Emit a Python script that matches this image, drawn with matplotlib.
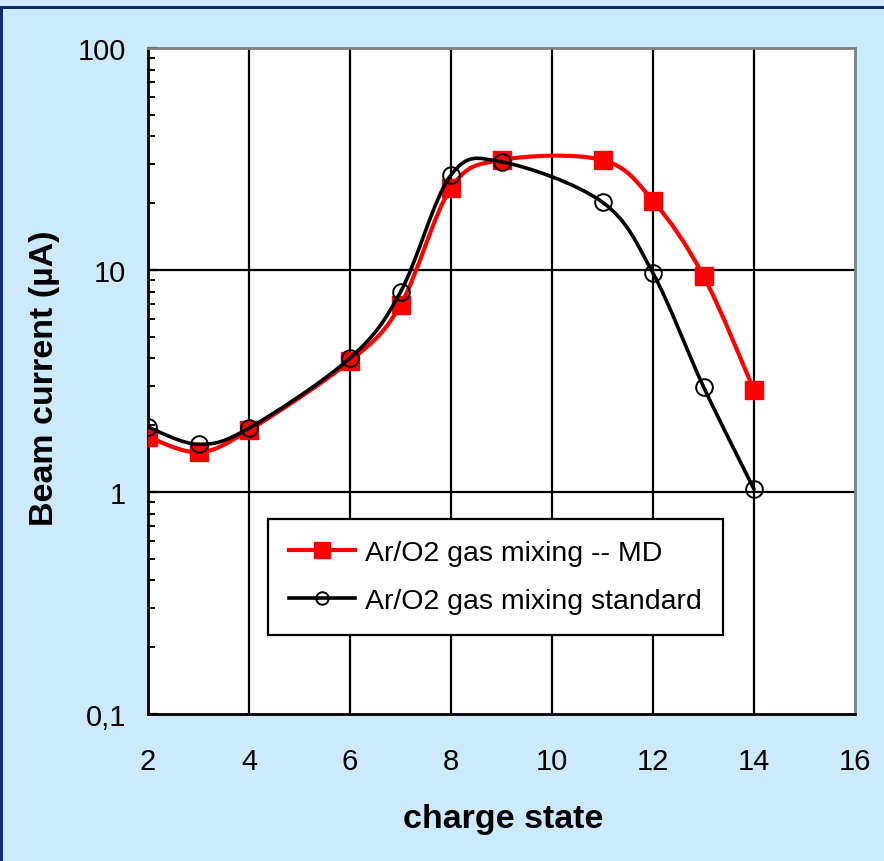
import numpy as np
import matplotlib.pyplot as plt
from matplotlib.path import Path
from matplotlib.patches import PathPatch, Rectangle
from matplotlib.lines import Line2D

plt.rcParams['font.family'] = ['Liberation Sans', 'DejaVu Sans']

charge = [2, 3, 4, 6, 7, 8, 9, 11, 12, 13, 14]
md_current = [1.77, 1.51, 1.90, 3.89, 6.95, 23.4, 31.3, 31.3, 20.5, 9.4, 2.88]
std_current = [1.96, 1.64, 1.94, 4.01, 7.95, 26.8, 30.7, 20.2, 9.67, 2.98, 1.03]

x_ticks = [2, 4, 6, 8, 10, 12, 14, 16]
y_ticks = [0.1, 1, 10, 100]
y_tick_labels = ["0,1", "1", "10", "100"]

BG = "#cdeafd"
NAVY = "#0b2c66"


def smooth_path(xs, ys):
    # Excel-like smoothed line: Catmull-Rom -> cubic Bezier in (x, log10 y) space
    p = np.column_stack([xs, np.log10(ys)])
    n = len(p)
    verts = [p[0]]
    codes = [Path.MOVETO]
    for i in range(n - 1):
        p0 = p[i - 1] if i > 0 else p[i]
        p3 = p[i + 2] if i + 2 < n else p[i + 1]
        c1 = p[i] + (p[i + 1] - p0) / 6.0
        c2 = p[i + 1] - (p3 - p[i]) / 6.0
        verts += [c1, c2, p[i + 1]]
        codes += [Path.CURVE4] * 3
    v = np.array(verts)
    v[:, 1] = 10 ** v[:, 1]
    return Path(v, codes)


fig = plt.figure(figsize=(8.84, 8.62), dpi=100, facecolor=BG)

# navy frame lines at top and left
fig.add_artist(Rectangle((0, 1 - 10 / 862), 1, 3 / 862, transform=fig.transFigure,
                         facecolor=NAVY, edgecolor="none"))
fig.add_artist(Rectangle((0, 0), 3 / 884, 1 - 7 / 862, transform=fig.transFigure,
                         facecolor=NAVY, edgecolor="none"))

ax = fig.add_axes([148 / 884, 147 / 862, 707 / 884, 666 / 862])
ax.set_facecolor("white")
ax.set_yscale("log")
ax.set_xlim(2, 16)
ax.set_ylim(0.1, 100)

for xv in x_ticks[1:-1]:
    ax.axvline(xv, color="black", lw=1.6, zorder=1)
for yv in [1, 10]:
    ax.axhline(yv, color="black", lw=1.6, zorder=1)

ax.add_patch(PathPatch(smooth_path(charge, md_current), facecolor="none",
                       edgecolor="#ff0000", lw=3.0, zorder=3, capstyle="round"))
ax.plot(charge, md_current, ls="none", marker="s", ms=12.5, color="#ff0000",
        mec="#ff0000", zorder=4)
ax.add_patch(PathPatch(smooth_path(charge, std_current), facecolor="none",
                       edgecolor="black", lw=2.6, zorder=5, capstyle="round"))
ax.plot(charge, std_current, ls="none", marker="o", ms=12, mfc="none",
        mec="black", mew=1.4, zorder=6)

ax.set_xticks(x_ticks)
ax.set_xticklabels([str(t) for t in x_ticks])
ax.set_yticks(y_ticks)
ax.set_yticklabels(y_tick_labels)
ax.tick_params(axis="x", length=0, pad=24, labelsize=21)
ax.tick_params(axis="y", which="major", direction="in", length=7, width=1.6,
               pad=16, labelsize=21)
ax.tick_params(axis="y", which="minor", direction="in", length=5, width=1.4,
               labelleft=False)

for s in ["left", "bottom"]:
    ax.spines[s].set_color("black")
    ax.spines[s].set_linewidth(2.0)
for s in ["top", "right"]:
    ax.spines[s].set_color("#808080")
    ax.spines[s].set_linewidth(2.0)

fig.text(503 / 884, 1 - 820 / 862, "charge state", fontsize=24.5,
         fontweight="bold", ha="center", va="center")
fig.text(45 / 884, 1 - 378 / 862, "Beam current (µA)", fontsize=24.5,
         fontweight="bold", ha="center", va="center", rotation=90)

handles = [
    Line2D([], [], color="#ff0000", lw=3.0, marker="s", ms=12),
    Line2D([], [], color="black", lw=2.6, marker="o", ms=9, mfc="none", mew=1.4),
]
leg = ax.legend(handles, ["Ar/O2 gas mixing -- MD", "Ar/O2 gas mixing standard"],
                loc="upper left", bbox_to_anchor=(120 / 707, 195 / 666),
                fontsize=20.5, frameon=True, fancybox=False, framealpha=1,
                edgecolor="black", handlelength=2.3, handletextpad=0.35,
                borderpad=0.75, labelspacing=0.75, borderaxespad=0)
leg.get_frame().set_linewidth(1.6)
leg.set_zorder(7)

fig.savefig("out.png", dpi=100, facecolor=BG)
